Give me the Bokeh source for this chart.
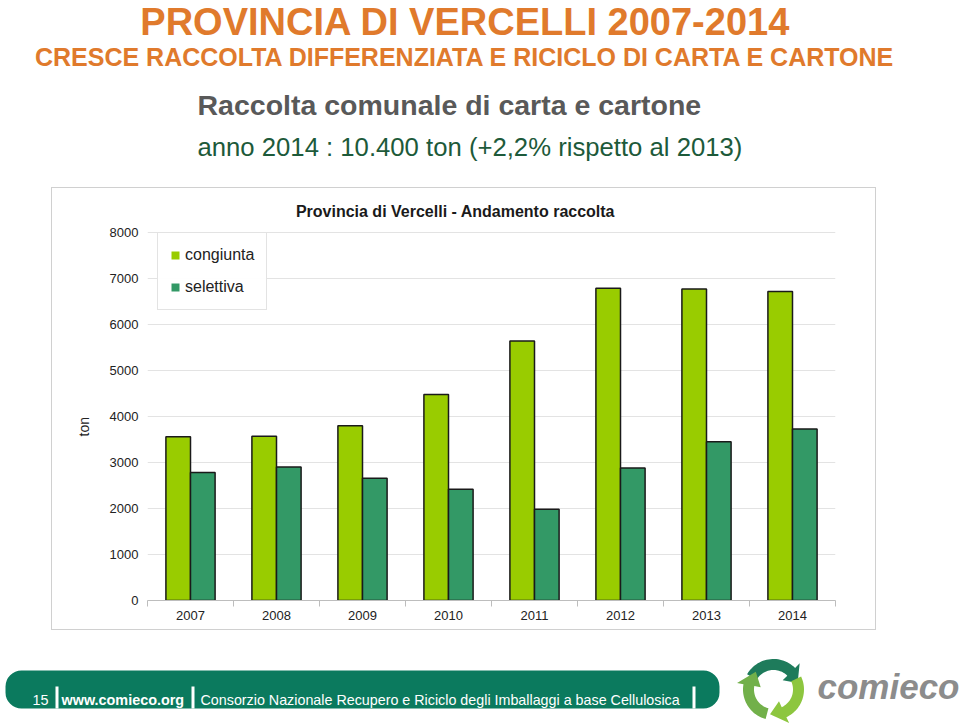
import numpy as np
from bokeh.plotting import figure
from bokeh.layouts import column, row
from bokeh.models import (ColumnDataSource, FixedTicker, Label, Legend, LegendItem,
                          Range1d, Spacer, Title)
from bokeh.transform import dodge
from bokeh.embed import file_html
from bokeh.resources import INLINE
from bokeh.core.properties import value

# ---- data ----
years = ["2007", "2008", "2009", "2010", "2011", "2012", "2013", "2014"]
congiunta = [3560, 3570, 3800, 4480, 5640, 6790, 6770, 6720]
selettiva = [2780, 2900, 2660, 2420, 1985, 2880, 3450, 3730]
y_ticks = [0, 1000, 2000, 3000, 4000, 5000, 6000, 7000, 8000]
series_names = ["congiunta", "selettiva"]

C_CONG = "#99CC00"
C_SEL = "#339966"
SANS = "Liberation Sans"

PAGE_W = 960


def blank(width, height, y0, y1):
    f = figure(width=width, height=height, output_backend="svg", toolbar_location=None,
               x_range=Range1d(0, width), y_range=Range1d(y1, y0),
               x_axis_type=None, y_axis_type=None,
               min_border=0, min_border_left=0, min_border_right=0,
               min_border_top=0, min_border_bottom=0)
    f.outline_line_color = None
    f.xgrid.grid_line_color = None
    f.ygrid.grid_line_color = None
    f.background_fill_color = "white"
    f.border_fill_color = "white"
    return f


def txt(f, s, x, y, size, color, font=SANS, style="normal", align="left"):
    f.text(x=[x], y=[y], text=[s], text_font=value(font), text_font_size=size,
           text_font_style=style, text_color=color, text_align=align,
           text_baseline="middle")


# ---------------- top: slide titles (page y 0..187) ----------------
top = blank(PAGE_W, 187, 0, 187)
txt(top, "PROVINCIA DI VERCELLI 2007-2014", 465, 21.5, "38px", "#E07A2C",
    style="bold", align="center")
txt(top, "CRESCE RACCOLTA DIFFERENZIATA E RICICLO DI CARTA E CARTONE", 465, 56,
    "25px", "#E07A2C", style="bold", align="center")
txt(top, "Raccolta comunale di carta e cartone", 197, 104, "28.5px", "#595959",
    style="bold")
txt(top, "anno 2014 : 10.400 ton (+2,2% rispetto al 2013)", 197, 146, "25.7px",
    "#1D5A3A")

# ---------------- chart (page x 51..876, y 187..630) ----------------
FRAME_L, FRAME_B = 146, 599
n = len(years)
src = ColumnDataSource(dict(x=list(range(n)), years=years,
                            congiunta=congiunta, selettiva=selettiva))

CH_W, CH_H = 825, 443
top_extra = 8000 + (231 - 187) / 46 * 1000
p = figure(width=CH_W, height=CH_H, output_backend="svg", toolbar_location=None,
           x_range=Range1d(-0.5, n - 0.5), y_range=Range1d(0, top_extra),
           min_border_left=95, min_border_right=42,
           min_border_top=0, min_border_bottom=31,
           styles={"border": "1px solid #d0d0d0"})
p.outline_line_color = None
p.background_fill_color = "white"
p.border_fill_color = "white"

bw = 0.286
r1 = p.vbar(x=dodge("x", -bw / 2, range=p.x_range), top="congiunta", width=bw,
            source=src, fill_color=C_CONG, line_color="#1a1a1a", line_width=1.5)
r2 = p.vbar(x=dodge("x", bw / 2, range=p.x_range), top="selettiva", width=bw,
            source=src, fill_color=C_SEL, line_color="#1a1a1a", line_width=1.5)

p.xgrid.grid_line_color = None
p.ygrid.grid_line_color = "#e3e3e3"
p.ygrid.ticker = FixedTicker(ticks=y_ticks)

ya = p.yaxis[0]
ya.ticker = FixedTicker(ticks=y_ticks)
ya.axis_line_color = None
ya.major_tick_line_color = None
ya.minor_tick_line_color = None
ya.major_tick_out = 0
ya.major_tick_in = 0
ya.minor_tick_out = 0
ya.minor_tick_in = 0
ya.major_label_standoff = 9
ya.major_label_text_font = SANS
ya.major_label_text_font_size = "13px"
ya.major_label_text_color = "#222222"

xa = p.xaxis[0]
xa.ticker = FixedTicker(ticks=list(range(n)),
                        minor_ticks=[i - 0.5 for i in range(n + 1)])
xa.major_label_overrides = {i: y for i, y in enumerate(years)}
xa.axis_line_color = "#bdbdbd"
xa.major_tick_line_color = None
xa.major_tick_out = 0
xa.major_tick_in = 0
xa.minor_tick_line_color = "#bdbdbd"
xa.minor_tick_out = 6
xa.minor_tick_in = 0
xa.major_label_standoff = 4
xa.major_label_text_font = SANS
xa.major_label_text_font_size = "13px"
xa.major_label_text_color = "#222222"

# y axis title, placed in the left panel
p.add_layout(Title(text="ton", align="left", offset=164, standoff=30,
                   text_font=SANS, text_font_size="14px", text_font_style="normal",
                   text_color="#222222"), "left")

# legend with plain squares (no outline)
nan = [np.nan]
d1 = p.quad(left=nan, right=nan, top=nan, bottom=nan, fill_color=C_CONG, line_color=None)
d2 = p.quad(left=nan, right=nan, top=nan, bottom=nan, fill_color=C_SEL, line_color=None)
legend = Legend(items=[LegendItem(label=series_names[0], renderers=[d1]),
                       LegendItem(label=series_names[1], renderers=[d2])],
                location=(156 - FRAME_L, FRAME_B - 309))
legend.margin = 0
legend.padding = 12
legend.spacing = 12
legend.glyph_width = 10
legend.glyph_height = 10
legend.label_standoff = 5
legend.label_height = 20
legend.label_text_font = SANS
legend.label_text_font_size = "16px"
legend.label_text_color = "#222222"
legend.border_line_color = "#c8c8c8"
legend.border_line_width = 1
legend.background_fill_color = "white"
p.add_layout(legend)

p.add_layout(Label(x=454 - FRAME_L, y=FRAME_B - 210, x_units="screen", y_units="screen",
                   text="Provincia di Vercelli - Andamento raccolta",
                   text_font=SANS, text_font_size="16px", text_font_style="bold",
                   text_color="#1a1a1a", text_align="center", text_baseline="middle"))

chart_row = row(Spacer(width=51, height=CH_H), p)

# ---------------- bottom: footer (page y 630..725) ----------------
bot = blank(PAGE_W, 95, 630, 725)
bot.quad(left=[5], right=[719], top=[670], bottom=[708], fill_color="#0B7A5E",
         line_color=None, border_radius=16)
bot.quad(left=[55, 191, 692], right=[58, 194, 695], top=[686] * 3, bottom=[708] * 3,
         fill_color="white", line_color=None)
txt(bot, "15", 32, 699, "14.4px", "white")
txt(bot, "www.comieco.org", 61, 699, "14.4px", "white", style="bold")
txt(bot, "Consorzio Nazionale Recupero e Riciclo degli Imballaggi a base Cellulosica",
    200, 699, "14.3px", "white")


def arrow(cx, cy, r, w, a0, a1, a_tip, hw):
    t = np.radians(np.linspace(a0, a1, 30))
    outer = [(cx + (r + w / 2) * np.cos(a), cy - (r + w / 2) * np.sin(a)) for a in t]
    inner = [(cx + (r - w / 2) * np.cos(a), cy - (r - w / 2) * np.sin(a)) for a in t[::-1]]
    e = np.radians(a1)
    tip = np.radians(a_tip)
    head = [(cx + (r + hw / 2) * np.cos(e), cy - (r + hw / 2) * np.sin(e)),
            (cx + r * np.cos(tip), cy - r * np.sin(tip)),
            (cx + (r - hw / 2) * np.cos(e), cy - (r - hw / 2) * np.sin(e))]
    pts = outer + head + inner
    return [a for a, b in pts], [b for a, b in pts]


axs, ays, acol = [], [], []
for (a0, a1, at, col) in [(150, 45, 15, "#1E7B5B"),
                          (255, 170, 135, "#72B04A"),
                          (25, -65, -98, "#8DC63F")]:
    xs, ys = arrow(773, 689, 25, 11, a0, a1, at, 24)
    axs.append(xs)
    ays.append(ys)
    acol.append(col)
bot.patches(xs=axs, ys=ays, fill_color=acol, line_color=None)
txt(bot, "comieco", 817, 686, "35px", "#8C8C8C", style="bold italic")

layout = column(top, chart_row, bot, spacing=0)
open("out.html", "w").write(file_html(layout, INLINE))
